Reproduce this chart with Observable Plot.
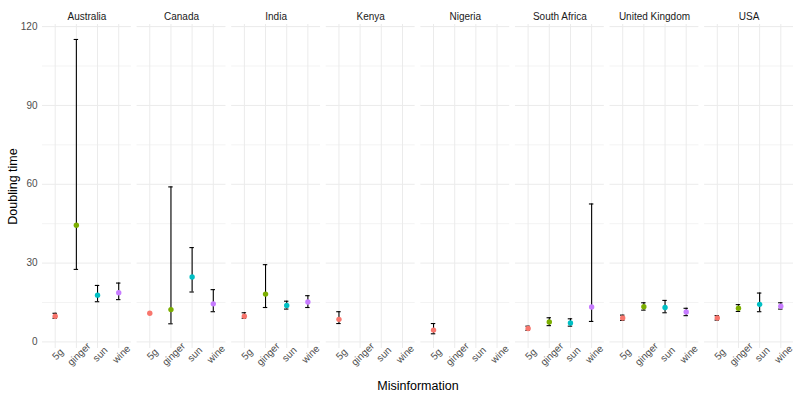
<!DOCTYPE html>
<html>
<head>
<meta charset="utf-8">
<script src="https://cdn.jsdelivr.net/npm/d3@7"></script>
<script src="https://cdn.jsdelivr.net/npm/@observablehq/plot@0.6"></script>
<style>
  html, body { margin: 0; padding: 0; background: #fff; }
  #chart svg { display: block; }
</style>
</head>
<body>
<div id="chart"></div>
<script>
const countries = ["Australia", "Canada", "India", "Kenya", "Nigeria", "South Africa", "United Kingdom", "USA"];
const misinfo = ["5g", "ginger", "sun", "wine"];
const colors = ["#F8766D", "#7CAE00", "#00BFC4", "#C77CFF"];
const yTicks = [0, 30, 60, 90, 120];
const yMinorTicks = [15, 45, 75, 105];

// one entry per observed point
const obsCountry = ["Australia","Australia","Australia","Australia",
  "Canada","Canada","Canada","Canada",
  "India","India","India","India",
  "Kenya","Nigeria",
  "South Africa","South Africa","South Africa","South Africa",
  "United Kingdom","United Kingdom","United Kingdom","United Kingdom",
  "USA","USA","USA","USA"];
const obsMisinfo = ["5g","ginger","sun","wine",
  "5g","ginger","sun","wine",
  "5g","ginger","sun","wine",
  "5g","5g",
  "5g","ginger","sun","wine",
  "5g","ginger","sun","wine",
  "5g","ginger","sun","wine"];
const doubling = [9.8, 44.4, 17.8, 18.7,
  10.9, 12.3, 24.7, 14.5,
  9.8, 18.2, 13.9, 15.2,
  8.6, 4.5,
  5.1, 7.6, 7.2, 13.3,
  9.1, 13.4, 13.1, 11.4,
  9.1, 12.8, 14.3, 13.6];
const lower = [9.0, 27.6, 15.3, 16.1,
  null, 6.9, 19.0, 11.5,
  9.0, 13.1, 12.5, 13.1,
  7.0, 3.1,
  4.4, 6.2, 6.0, 7.8,
  8.2, 12.1, 11.1, 10.0,
  8.3, 11.6, 11.5, 12.5];
const upper = [10.9, 115.1, 21.5, 22.4,
  null, 59.0, 35.9, 19.9,
  11.1, 29.4, 15.5, 17.6,
  11.5, 7.0,
  6.0, 9.2, 8.8, 52.5,
  10.2, 14.9, 15.8, 12.8,
  10.0, 14.2, 18.6, 14.9];

const rows = obsCountry.map((c, i) => ({
  country: c, mis: obsMisinfo[i], y: doubling[i], lo: lower[i], hi: upper[i]
}));
const bars = rows.filter(d => d.lo != null && d.hi != null);
const labelRows = countries.flatMap(c => misinfo.map(m => ({country: c, mis: m})));

const font = "'Liberation Sans', Arial, sans-serif";
const grid = "#EBEBEB";

// band scale whose band centres sit where ggplot's discrete positions are;
// band width doubles as the error-bar cap width
const capFrac = 0.21;
const xPadInner = 1 - capFrac;
const xPadOuter = 0.6 - capFrac / 2;

const chart = Plot.plot({
  width: 800,
  height: 400,
  marginLeft: 42,
  marginRight: 7,
  marginTop: 24,
  marginBottom: 52,
  style: {fontFamily: font, background: "#fff"},
  fx: {domain: countries, paddingInner: 0.06, paddingOuter: 0, round: false, label: null},
  x: {type: "band", domain: misinfo, paddingInner: xPadInner, paddingOuter: xPadOuter, round: false, axis: null},
  y: {domain: [-2.5, 120.8], axis: null},
  color: {domain: misinfo, range: colors},
  marks: [
    Plot.ruleX(misinfo, {x: d => d, stroke: grid, strokeOpacity: 1, strokeWidth: 1}),
    Plot.ruleY(yMinorTicks, {y: d => d, stroke: grid, strokeOpacity: 1, strokeWidth: 0.6}),
    Plot.ruleY(yTicks, {y: d => d, stroke: grid, strokeOpacity: 1, strokeWidth: 1}),
    Plot.axisY({ticks: yTicks, tickSize: 0, tickPadding: 5, label: null, fontSize: 10, fill: "#4D4D4D"}),
    Plot.axisFx({anchor: "top", tickSize: 0, tickPadding: 5, label: null, fontSize: 10, fill: "#1A1A1A"}),
    Plot.text(labelRows, {fx: "country", x: "mis", text: "mis", frameAnchor: "bottom",
      rotate: -45, textAnchor: "middle", lineAnchor: "top", dy: 3, fontSize: 10, fill: "#4D4D4D"}),
    Plot.ruleX(bars, {fx: "country", x: "mis", y1: "lo", y2: "hi", stroke: "#000", strokeWidth: 1.1}),
    Plot.tickY(bars, {fx: "country", x: "mis", y: "lo", stroke: "#000", strokeWidth: 1.1}),
    Plot.tickY(bars, {fx: "country", x: "mis", y: "hi", stroke: "#000", strokeWidth: 1.1}),
    Plot.dot(rows, {fx: "country", x: "mis", y: "y", fill: "mis", r: 2.7, stroke: null}),
    Plot.text(["Misinformation"], {facet: "super", frameAnchor: "bottom", dy: 37, lineAnchor: "middle", fontSize: 12.5, fill: "#000"}),
    Plot.text(["Doubling time"], {facet: "super", frameAnchor: "left", dx: -30, rotate: -90, lineAnchor: "middle", textAnchor: "middle", fontSize: 12.5, fill: "#000"})
  ]
});
document.getElementById("chart").appendChild(chart);
</script>
</body>
</html>
